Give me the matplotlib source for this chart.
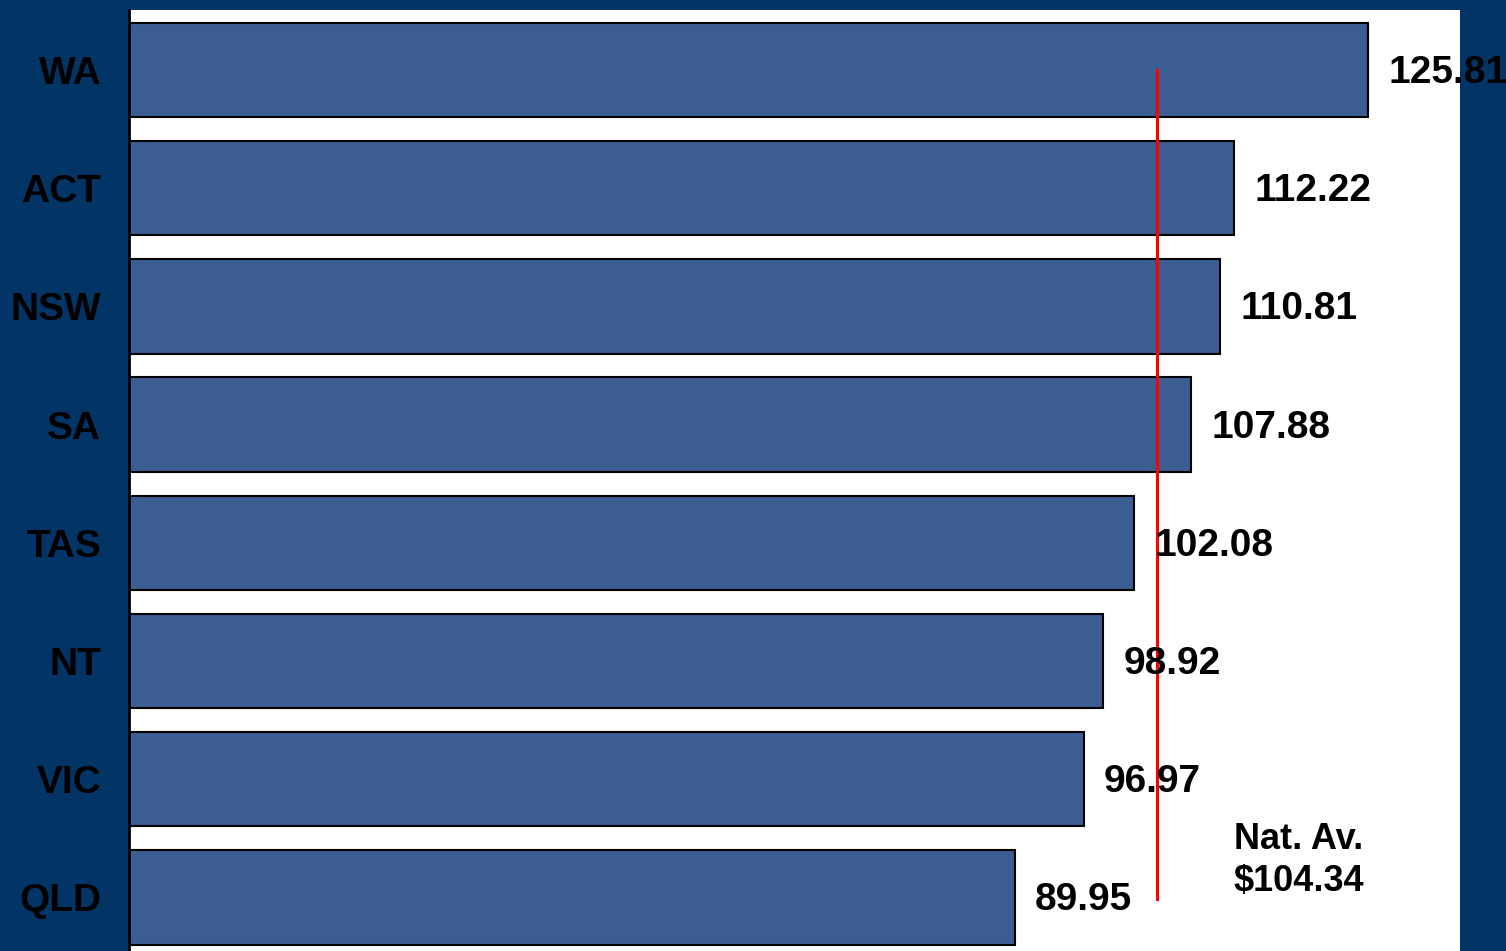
import matplotlib
matplotlib.use("Agg")
import matplotlib.pyplot as plt

states = ["WA", "ACT", "NSW", "SA", "TAS", "NT", "VIC", "QLD"]
values = [125.81, 112.22, 110.81, 107.88, 102.08, 98.92, 96.97, 89.95]
nat_avg = 104.34

plt.rcParams['font.family'] = ['Liberation Sans', 'DejaVu Sans']

fig = plt.figure(figsize=(15.06, 9.51), dpi=100, facecolor='#023466')
ax = fig.add_axes([129/1506, 0, 1331/1506, 941/951])
ax.set_facecolor('white')

pos = list(range(len(states)))
ax.barh(pos, values, height=0.8, color='#3C5D92', edgecolor='black', linewidth=1.5, zorder=2)
ax.set_xlim(0, 135.15)
ax.set_ylim(7.454, -0.508)

for p, v in zip(pos, values):
    ax.annotate(f"{v:.2f}", (v, p), xytext=(20, -3), textcoords='offset pixels',
                ha='left', va='center', fontsize=28, fontweight='bold', color='black',
                annotation_clip=False, clip_on=False, zorder=4)

ax.plot([nat_avg, nat_avg], [0, 7.01], color='#FF0000', linewidth=2.2, zorder=3)
ax.text(112.2, 6.69, f"Nat. Av.\n${nat_avg:.2f}", ha='left', va='center', fontsize=26,
        fontweight='bold', color='black', linespacing=1.25, zorder=4)

ax.set_yticks(pos)
ax.set_yticklabels(states, fontsize=28, fontweight='bold', color='black')
ax.tick_params(axis='y', length=0, pad=20)
ax.set_xticks([])
for s in ['top', 'right', 'bottom']:
    ax.spines[s].set_visible(False)
ax.spines['left'].set_linewidth(2)
ax.spines['left'].set_color('black')

fig.savefig("out.png", dpi=100, facecolor=fig.get_facecolor())
